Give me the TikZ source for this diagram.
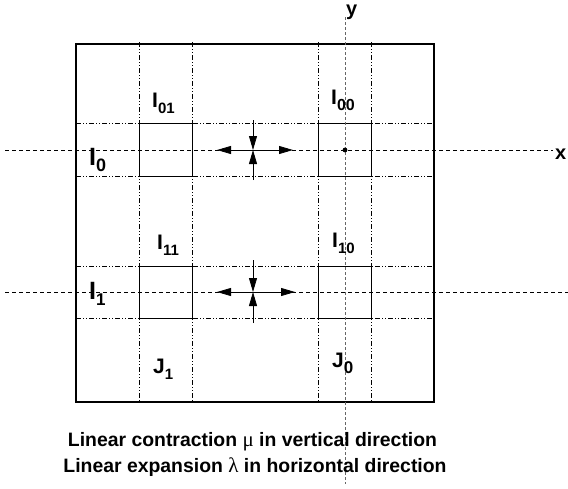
\documentclass[tikz,border=0pt]{standalone}
\usepackage{fontspec}
\setmainfont{Liberation Sans}
\newfontfamily\grk{Liberation Serif}
\usetikzlibrary{arrows.meta}
\newcommand\sublab[3][15]{#2\raisebox{-6pt}{\fontsize{#1}{#1}\selectfont #3}}
\tikzset{
  frame/.style={draw, line width=1.2pt},
  cell/.style={draw, line width=0.9pt, minimum width=53pt, minimum height=53pt, inner sep=0pt},
  guide/.style={line width=0.6pt, dash pattern=on 5pt off 2pt on 1pt off 2pt on 1pt off 2pt},
  axis/.style={line width=0.8pt, dash pattern=on 4pt off 3pt},
  yaxis/.style={gray!80!black, line width=1pt, dash pattern=on 3pt off 2pt},
  lab/.style={anchor=base west, inner sep=0pt, font=\fontsize{21}{21}\selectfont\bfseries},
  biglab/.style={anchor=base west, inner sep=0pt, font=\fontsize{25}{25}\selectfont\bfseries},
  axlab/.style={anchor=base west, inner sep=0pt, font=\fontsize{20}{20}\selectfont\bfseries},
  captext/.style={anchor=base, inner sep=0pt, font=\fontsize{19.4}{19.4}\selectfont\bfseries},
  arr/.style={-{Triangle[length=14pt,width=8pt]}, line width=0.8pt},
  darr/.style={{Triangle[length=14pt,width=8pt]}-{Triangle[length=14pt,width=8pt]}, line width=0.8pt},
}
\begin{document}
\begin{tikzpicture}[x=1pt,y=-1pt]
\useasboundingbox (0,0) rectangle (568,488);
% guides
\foreach \gx in {139,192,318,371} \draw[guide] (\gx,42) -- (\gx,402);
\foreach \gy in {123,176,266,318} \draw[guide] (76,\gy) -- (434,\gy);
% frame
\draw[frame] (76,44) rectangle (434,402);
% cells
\node[cell] (c01) at (165.5,149.5) {};
\node[cell] (c00) at (344.5,149.5) {};
\node[cell, minimum height=52pt] (c11) at (165.5,292) {};
\node[cell, minimum height=52pt] (c10) at (344.5,292) {};
% axes
\coordinate (xl) at (5,150);
\coordinate (xr) at (553,150);
\coordinate (r1l) at (5,292);
\coordinate (r1r) at (568,292);
\coordinate (yt) at (345,17);
\coordinate (yb) at (345,484);
\draw[axis] (xl) -- (xr);
\draw[axis] (r1l) -- (r1r);
\draw[yaxis] (yt) -- (yb);
\node[axlab] (xlab) at (555,159) {x};
\node[axlab] (ylab) at (346,15) {y};
\fill (345,150) circle (2.4pt);
% arrows row 0
\coordinate (m0) at (253,150);
\coordinate (m0l) at (217,150);
\coordinate (m0r) at (293,150);
\coordinate (m0t) at (253,120);
\coordinate (m0b) at (253,180);
\draw[darr] (m0l) -- (m0r);
\draw[arr] (m0t) -- (m0);
\draw[arr] (m0b) -- (m0);
% arrows row 1
\coordinate (m1) at (253,292);
\coordinate (m1l) at (217,292);
\coordinate (m1r) at (295,292);
\coordinate (m1t) at (253,260);
\coordinate (m1b) at (253,323);
\draw[darr] (m1l) -- (m1r);
\draw[arr] (m1t) -- (m1);
\draw[arr] (m1b) -- (m1);
% labels
\node[lab] (l01) at (152,107) {\sublab{I}{01}};
\node[lab] (l00) at (331,104) {\sublab[16]{I}{00}};
\node[biglab] (l0) at (89,165) {\sublab[18]{I}{0}};
\node[lab] (l11) at (157,249) {\sublab{I}{11}};
\node[lab] (l10) at (332,247) {\sublab{I}{10}};
\node[biglab] (l1) at (89,299) {\sublab[17]{I}{1}};
\node[lab] (j1) at (153,373) {\sublab{J}{1}};
\node[lab] (j0) at (332,367) {\sublab[17]{J}{0}};
% captions
\node[captext] (t1) at (252.5,446) {Linear contraction {\grk\mdseries\fontsize{21}{21}\selectfont μ} in vertical direction};
\node[captext] (t2) at (255,472) {Linear expansion {\grk\mdseries\fontsize{21}{21}\selectfont λ} in horizontal direction};
\end{tikzpicture}
\end{document}
